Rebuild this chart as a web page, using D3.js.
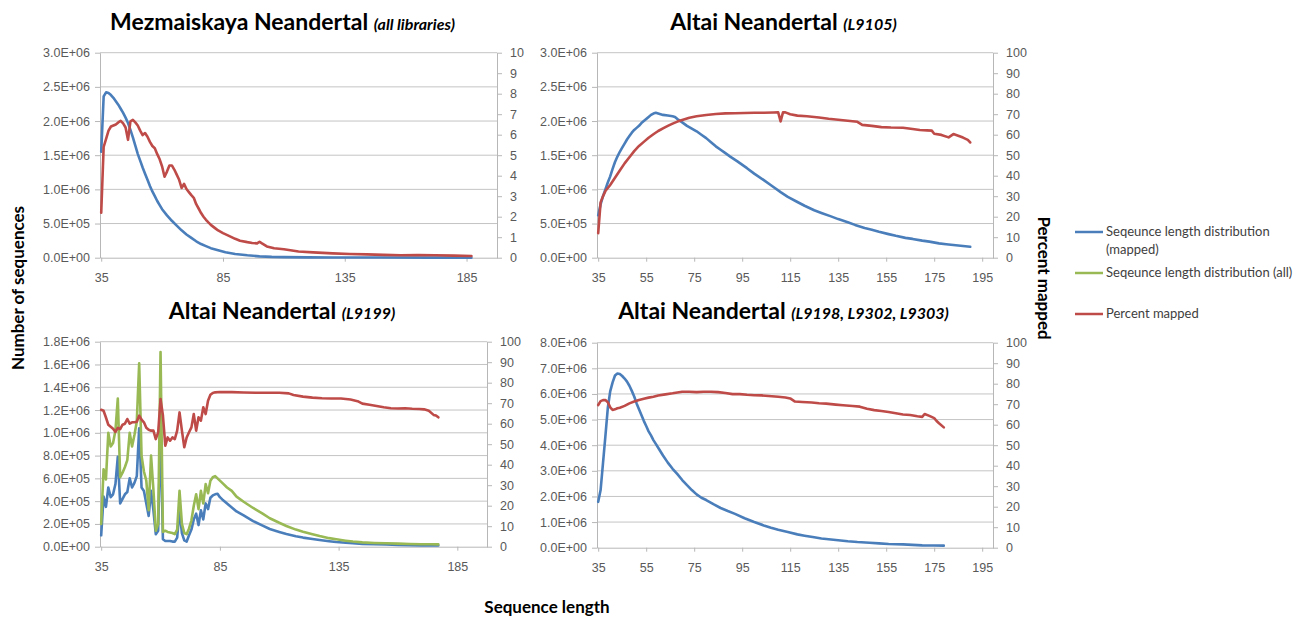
<!DOCTYPE html>
<html><head><meta charset="utf-8">
<script src="https://cdn.jsdelivr.net/npm/d3@7/dist/d3.min.js"></script>
<style>
html,body{margin:0;padding:0;background:#fff;}
svg{display:block;font-family:Lato,"Liberation Sans",sans-serif;}
.tick text{fill:#595959;font-size:12px;}
</style></head>
<body><svg id="c" width="1304" height="618"></svg>
<script>
// ---------------- DATA ----------------
// Panel 1: Mezmaiskaya Neandertal (all libraries)
const p1MappedLen = [35,36,37,38,39,40,41,42,43,44,45,46,47,48,49,50,51,52,53,54,55,56,57,58,59,60,62,64,66,68,70,72,74,76,78,80,83,86,90,95,100,105,110,120,130,150,170,187];
const p1MappedVal = [1.55e6,2.36e6,2.42e6,2.41e6,2.38e6,2.34e6,2.29e6,2.24e6,2.18e6,2.12e6,2.05e6,1.97e6,1.87e6,1.76e6,1.64e6,1.52e6,1.42e6,1.32e6,1.23e6,1.14e6,1.05e6,0.97e6,0.90e6,0.83e6,0.77e6,0.71e6,0.62e6,0.54e6,0.47e6,0.40e6,0.34e6,0.29e6,0.24e6,0.20e6,0.17e6,0.14e6,0.11e6,0.08e6,0.055e6,0.035e6,0.02e6,0.012e6,0.008e6,0.005e6,0.003e6,0.002e6,0.001e6,0.001e6];
const p1PctLen = [35,36,37,38,39,40,41,42,43,44,45,46,47,48,49,50,51,52,53,54,55,56,57,58,59,60,61,62,63,64,65,66,67,68,69,70,71,72,73,74,75,76,77,78,79,80,82,83,85,87,90,92,95,97,99,100,101,103,106,110,116,122,130,137,144,151,158,165,172,180,187];
const p1PctVal = [2.2,5.4,5.8,6.2,6.4,6.45,6.5,6.6,6.68,6.55,6.35,5.75,6.65,6.72,6.6,6.45,6.2,5.98,6.08,5.9,5.65,5.45,5.34,5.05,4.8,4.45,3.95,4.2,4.5,4.5,4.3,4.05,3.8,3.4,3.6,3.35,3.2,3.05,2.92,2.61,2.4,2.18,2.0,1.85,1.72,1.6,1.42,1.33,1.2,1.09,0.92,0.83,0.76,0.72,0.7,0.78,0.7,0.55,0.46,0.41,0.3,0.26,0.21,0.18,0.16,0.14,0.12,0.13,0.12,0.1,0.08];

// Panel 2: Altai Neandertal (L9105)
const p2MappedLen = [35,36,37,38,39,40,41,42,43,44,45,46,47,48,49,50,51,52,53,54,55,56,57,58,59,60,61,62,64,66,67,68,70,72,74,76,78,80,82,84,86,88,90,93,97,100,104,107,111,114,118,121,125,128,132,135,139,142,146,149,152,156,159,163,166,170,173,177,180,184,187,190];
const p2MappedVal = [0.62e6,0.78e6,0.9e6,1.0e6,1.1e6,1.19e6,1.3e6,1.4e6,1.48e6,1.55e6,1.61e6,1.67e6,1.73e6,1.78e6,1.83e6,1.87e6,1.9e6,1.93e6,1.97e6,2.0e6,2.03e6,2.06e6,2.09e6,2.11e6,2.12e6,2.11e6,2.1e6,2.09e6,2.08e6,2.07e6,2.06e6,2.03e6,1.98e6,1.93e6,1.89e6,1.85e6,1.8e6,1.75e6,1.69e6,1.63e6,1.58e6,1.53e6,1.48e6,1.41e6,1.31e6,1.23e6,1.135e6,1.06e6,0.96e6,0.89e6,0.815e6,0.76e6,0.695e6,0.655e6,0.605e6,0.565e6,0.52e6,0.48e6,0.435e6,0.41e6,0.38e6,0.345e6,0.32e6,0.29e6,0.275e6,0.25e6,0.235e6,0.21e6,0.197e6,0.182e6,0.171e6,0.16e6];
const p2PctLen = [35,36,37,38,40,42,44,46,48,50,52,54,56,58,60,62,64,66,68,70,73,76,80,84,88,92,96,100,104,108,110,111,112,113,115,118,122,127,131,136,140,143,145,149,153,157,162,166,169,172,174,175,178,181,183,185,187,189,190];
const p2PctVal = [12,27,30,32.5,35.5,39,42.5,46,49,52,54.5,56.5,58.5,60.2,61.8,63.1,64.3,65.4,66.4,67.2,68.3,69,69.6,70.1,70.4,70.5,70.6,70.7,70.7,70.8,70.9,66.5,70.9,70.9,70.0,69.3,69.0,68.4,67.8,67.2,66.7,66.3,64.8,64.3,63.7,63.5,63.4,62.8,62.3,62.1,62.0,60.5,59.9,58.7,60.3,59.5,58.6,57.5,56.2];

// Panel 3: Altai Neandertal (L9199)
const p3Len = [35,36,37,38,39,40,41,42,43,44,45,46,47,48,49,50,51,52,53,54,55,56,57,58,59,60,61,62,63,64,65,66,67,68,69,70,71,72,73,74,75,76,77,78,79,80,81,82,83,84,85,86,88,90,92,95,99,103,106,110,113,117,120,124,127,131,134,138,141,145,150,155,160,165,170,174,177];
const p3MappedVal = [1.0e5,4.4e5,3.5e5,5.2e5,4.35e5,4.6e5,5.5e5,7.9e5,3.8e5,4.2e5,4.6e5,4.8e5,6.0e5,5.2e5,5.6e5,6.2e5,1.04e6,5.2e5,4.9e5,3.8e5,2.7e5,4.9e5,3.2e5,1.1e5,1.4e5,1.05e6,6.5e4,5e4,5e4,5e4,4.5e4,4.5e4,8e4,3.2e5,1.2e5,5.5e4,4.5e4,1.0e5,1.5e5,2.4e5,2.9e5,1.9e5,3.2e5,2.4e5,3.8e5,3.3e5,4.3e5,4.5e5,4.6e5,4.65e5,4.35e5,4.15e5,3.8e5,3.45e5,3.1e5,2.75e5,2.25e5,1.85e5,1.55e5,1.3e5,1.12e5,9.2e4,8e4,6.8e4,5.9e4,4.8e4,4.1e4,3.5e4,3.0e4,2.5e4,2.1e4,1.9e4,1.6e4,1.4e4,1.2e4,1.1e4,1.0e4];
const p3AllVal = [2.0e5,6.8e5,5.9e5,1.0e6,8.8e5,9.1e5,1.02e6,1.3e6,6.1e5,6.5e5,7.0e5,7.6e5,1.0e6,8.8e5,9.8e5,1.1e6,1.61e6,8.0e5,6.6e5,5.8e5,3.2e5,8.0e5,5.0e5,1.4e5,2.0e5,1.71e6,1.3e5,1.4e5,1.3e5,1.25e5,1.2e5,1.1e5,1.5e5,4.9e5,2.0e5,1.2e5,1.1e5,1.6e5,2.3e5,3.6e5,4.6e5,3.3e5,4.9e5,3.8e5,5.5e5,4.7e5,5.8e5,6.1e5,6.2e5,6.0e5,5.8e5,5.6e5,5.2e5,4.9e5,4.4e5,3.95e5,3.4e5,2.9e5,2.5e5,2.1e5,1.82e5,1.5e5,1.32e5,1.1e5,9.4e4,7.5e4,6.5e4,5.3e4,4.5e4,3.8e4,3.3e4,3.0e4,2.7e4,2.4e4,2.2e4,2.1e4,2.0e4];
const p3PctLen = [35,36,37,38,39,40,41,42,43,44,45,46,47,48,49,50,51,52,53,54,55,56,57,58,59,60,61,62,63,64,65,66,67,68,69,70,71,72,73,74,75,76,77,78,79,80,81,82,83,85,90,95,100,105,110,114,116,120,124,128,132,136,140,143,145,148,151,154,157,160,163,166,169,171,173,175,176,177];
const p3PctVal = [66.8,66.3,63,59.5,58.5,57.5,56,58,57.4,59.5,60,62.3,60,60.7,60.7,61,63.9,62,60.7,58,57,56.6,56.6,52.5,55.8,72,64,49.3,53.3,51.7,53.3,52.5,56.6,65.5,56.6,48.5,53.3,55.8,58.2,64.7,56.6,63.1,61.5,68,64.7,71.2,74.1,75,75.3,75.5,75.4,75.2,75.1,75.1,75.1,74.8,74,73.2,72.7,72.4,72.3,72.3,71.8,71,69.8,69.2,68.6,68,67.5,67.4,67.5,67.3,67.2,67,66.3,64.3,64,63.1];

// Panel 4: Altai Neandertal (L9198, L9302, L9303)
const p4MappedLen = [35,36,37,38,39,40,41,42,43,44,45,46,47,48,49,50,51,52,53,54,55,56,57,58,59,60,62,64,66,68,70,72,74,76,78,80,83,86,89,92,96,100,104,107,110,114,118,121,125,128,132,135,139,143,148,152,156,162,166,170,175,179];
const p4MappedVal = [1.79e6,2.25e6,3.3e6,4.35e6,5.45e6,6.1e6,6.45e6,6.72e6,6.8e6,6.78e6,6.7e6,6.6e6,6.48e6,6.32e6,6.12e6,5.9e6,5.63e6,5.4e6,5.18e6,4.95e6,4.75e6,4.54e6,4.38e6,4.2e6,4.05e6,3.9e6,3.6e6,3.32e6,3.08e6,2.87e6,2.64e6,2.44e6,2.25e6,2.08e6,1.95e6,1.86e6,1.7e6,1.55e6,1.43e6,1.32e6,1.15e6,1.0e6,0.87e6,0.78e6,0.7e6,0.61e6,0.52e6,0.47e6,0.41e6,0.36e6,0.32e6,0.29e6,0.25e6,0.22e6,0.195e6,0.17e6,0.145e6,0.13e6,0.11e6,0.09e6,0.085e6,0.08e6];
const p4PctLen = [35,36,37,38,39,40,41,42,43,44,46,48,50,52,54,56,58,60,63,66,68,70,73,76,79,82,85,88,91,94,97,100,103,106,110,113,115,117,120,124,127,130,134,137,141,144,147,150,153,156,159,162,165,168,170,171,173,175,176,177,179];
const p4PctVal = [69.6,71.5,72,72,71,68.5,67.2,67.5,68,68.3,69.2,70.4,71.3,72.1,72.7,73.2,73.6,74.2,74.8,75.3,75.7,76.1,76.1,75.9,76.1,76.1,75.9,75.5,74.9,74.9,74.6,74.4,74.3,74.0,73.6,73.3,72.8,71.3,71.1,70.8,70.5,70.3,69.8,69.5,69.1,68.8,67.8,67.1,66.7,66.2,65.6,65.0,64.7,64.1,63.8,65.2,64.3,63.2,61.8,60.7,58.7];

// Titles, axis tick values, legend
const titles = ["Mezmaiskaya Neandertal", "Altai Neandertal", "Altai Neandertal", "Altai Neandertal"];
const subtitles = ["(all libraries)", "(L9105)", "(L9199)", "(L9198, L9302, L9303)"];
const xTicksA = [35, 85, 135, 185];
const xTicksB = [35, 55, 75, 95, 115, 135, 155, 175, 195];
const leftTicks1 = [0, 5e5, 1e6, 1.5e6, 2e6, 2.5e6, 3e6];
const leftTicks3 = [0, 2e5, 4e5, 6e5, 8e5, 1e6, 1.2e6, 1.4e6, 1.6e6, 1.8e6];
const leftTicks4 = [0, 1e6, 2e6, 3e6, 4e6, 5e6, 6e6, 7e6, 8e6];
const rightTicks1 = [0,1,2,3,4,5,6,7,8,9,10];
const rightTicks100 = [0,10,20,30,40,50,60,70,80,90,100];
const legendLabels = [["Seqeunce length distribution", "(mapped)"], ["Seqeunce length distribution (all)"], ["Percent mapped"]];
const yAxisTitle = "Number of sequences";
const y2AxisTitle = "Percent mapped";
const xAxisTitle = "Sequence length";

// ---------------- STYLE ----------------
const BLUE = "#4a7ebb", GREEN = "#98b954", RED = "#be4b48";
const legendColors = [BLUE, GREEN, RED];

const zip = (a, b) => a.map((v, i) => [v, b[i]]);

const panels = [
  {title: titles[0], sub: subtitles[0], L: 100, R: 497, T: 52.7, B: 257.7, xd: [34.5, 197.5], xt: xTicksA,
   lt: leftTicks1, rt: rightTicks1, cx: 282.5, ty: 30,
   series: [{d: zip(p1MappedLen, p1MappedVal), c: BLUE, ax: "L"}, {d: zip(p1PctLen, p1PctVal), c: RED, ax: "R"}]},
  {title: titles[1], sub: subtitles[1], L: 597, R: 993, T: 52.7, B: 257.7, xd: [34.5, 199.5], xt: xTicksB,
   lt: leftTicks1, rt: rightTicks100, cx: 783.5, ty: 30,
   series: [{d: zip(p2MappedLen, p2MappedVal), c: BLUE, ax: "L"}, {d: zip(p2PctLen, p2PctVal), c: RED, ax: "R"}]},
  {title: titles[2], sub: subtitles[2], L: 100, R: 487, T: 341.7, B: 546.7, xd: [34.5, 197.5], xt: xTicksA,
   lt: leftTicks3, rt: rightTicks100, cx: 282, ty: 318.5,
   series: [{d: zip(p3Len, p3MappedVal), c: BLUE, ax: "L"}, {d: zip(p3Len, p3AllVal), c: GREEN, ax: "L"}, {d: zip(p3PctLen, p3PctVal), c: RED, ax: "R"}]},
  {title: titles[3], sub: subtitles[3], L: 597, R: 993, T: 342.7, B: 547.7, xd: [34.5, 199.5], xt: xTicksB,
   lt: leftTicks4, rt: rightTicks100, cx: 783.5, ty: 319,
   series: [{d: zip(p4MappedLen, p4MappedVal), c: BLUE, ax: "L"}, {d: zip(p4PctLen, p4PctVal), c: RED, ax: "R"}]}
];

const fmtE = v => {
  const [m, e] = v.toExponential(1).split("e");
  const n = parseInt(e, 10);
  return m + "E" + (n < 0 ? "-" : "+") + String(Math.abs(n)).padStart(2, "0");
};

const svg = d3.select("#c");
const AXIS = "#b7b7b7", GRID = "#c4c4c4";

panels.forEach(p => {
  const x = d3.scaleLinear().domain(p.xd).range([p.L, p.R]);
  const yL = d3.scaleLinear().domain([0, d3.max(p.lt)]).range([p.B, p.T]);
  const yR = d3.scaleLinear().domain([0, d3.max(p.rt)]).range([p.B, p.T]);
  const g = svg.append("g");

  // gridlines
  g.append("g").selectAll("line").data(p.lt.slice(1)).join("line")
    .attr("x1", p.L).attr("x2", p.R).attr("y1", d => yL(d)).attr("y2", d => yL(d))
    .attr("stroke", GRID).attr("stroke-width", 1);

  // axes
  const styleAxis = sel => {
    sel.selectAll(".domain").attr("stroke", AXIS);
    sel.selectAll(".tick line").attr("stroke", AXIS);
    sel.selectAll(".tick text").attr("fill", "#595959").style("font-size", "12.5px");
  };
  g.append("g").attr("transform", `translate(${p.L},0)`)
    .call(d3.axisLeft(yL).tickValues(p.lt).tickFormat(fmtE).tickSize(5).tickSizeOuter(0).tickPadding(5))
    .call(styleAxis);
  g.append("g").attr("transform", `translate(${p.R},0)`)
    .call(d3.axisRight(yR).tickValues(p.rt).tickFormat(d3.format("d")).tickSize(5).tickSizeOuter(0).tickPadding(8))
    .call(styleAxis);
  g.append("g").attr("transform", `translate(0,${p.B})`)
    .call(d3.axisBottom(x).tickValues(p.xt).tickFormat(d3.format("d")).tickSize(4).tickSizeOuter(0).tickPadding(11))
    .call(styleAxis);

  // series
  p.series.forEach(s => {
    const y = s.ax === "L" ? yL : yR;
    const line = d3.line().x(d => x(d[0])).y(d => y(d[1]));
    g.append("path").datum(s.d).attr("d", line)
      .attr("fill", "none").attr("stroke", s.c).attr("stroke-width", 2.6)
      .attr("stroke-linejoin", "round").attr("stroke-linecap", "round");
  });

  // title
  const t = svg.append("text").attr("x", p.cx).attr("y", p.ty).attr("text-anchor", "middle").attr("fill", "#000");
  t.append("tspan").text(p.title + " ").style("font-size", "23px").style("font-weight", "bold");
  t.append("tspan").text(p.sub).style("font-size", "16px").style("font-weight", "bold").style("font-style", "italic");
});

// axis titles
svg.append("text").attr("transform", "translate(24,288) rotate(-90)").attr("text-anchor", "middle")
  .style("font-size", "17px").style("font-weight", "bold").text(yAxisTitle);
svg.append("text").attr("transform", "translate(1038,278) rotate(90)").attr("text-anchor", "middle")
  .style("font-size", "17px").style("font-weight", "bold").text(y2AxisTitle);
svg.append("text").attr("x", 547).attr("y", 613).attr("text-anchor", "middle")
  .style("font-size", "17px").style("font-weight", "bold").text(xAxisTitle);

// legend
const legY = [232, 273, 314];
legendLabels.forEach((lines, i) => {
  svg.append("line").attr("x1", 1075).attr("x2", 1103).attr("y1", legY[i]).attr("y2", legY[i])
    .attr("stroke", legendColors[i]).attr("stroke-width", 2.5);
  lines.forEach((s, j) => {
    svg.append("text").attr("x", 1106).attr("y", legY[i] + 4 + j * 18)
      .style("font-size", "13px").attr("fill", "#404040").text(s);
  });
});
</script></body></html>
